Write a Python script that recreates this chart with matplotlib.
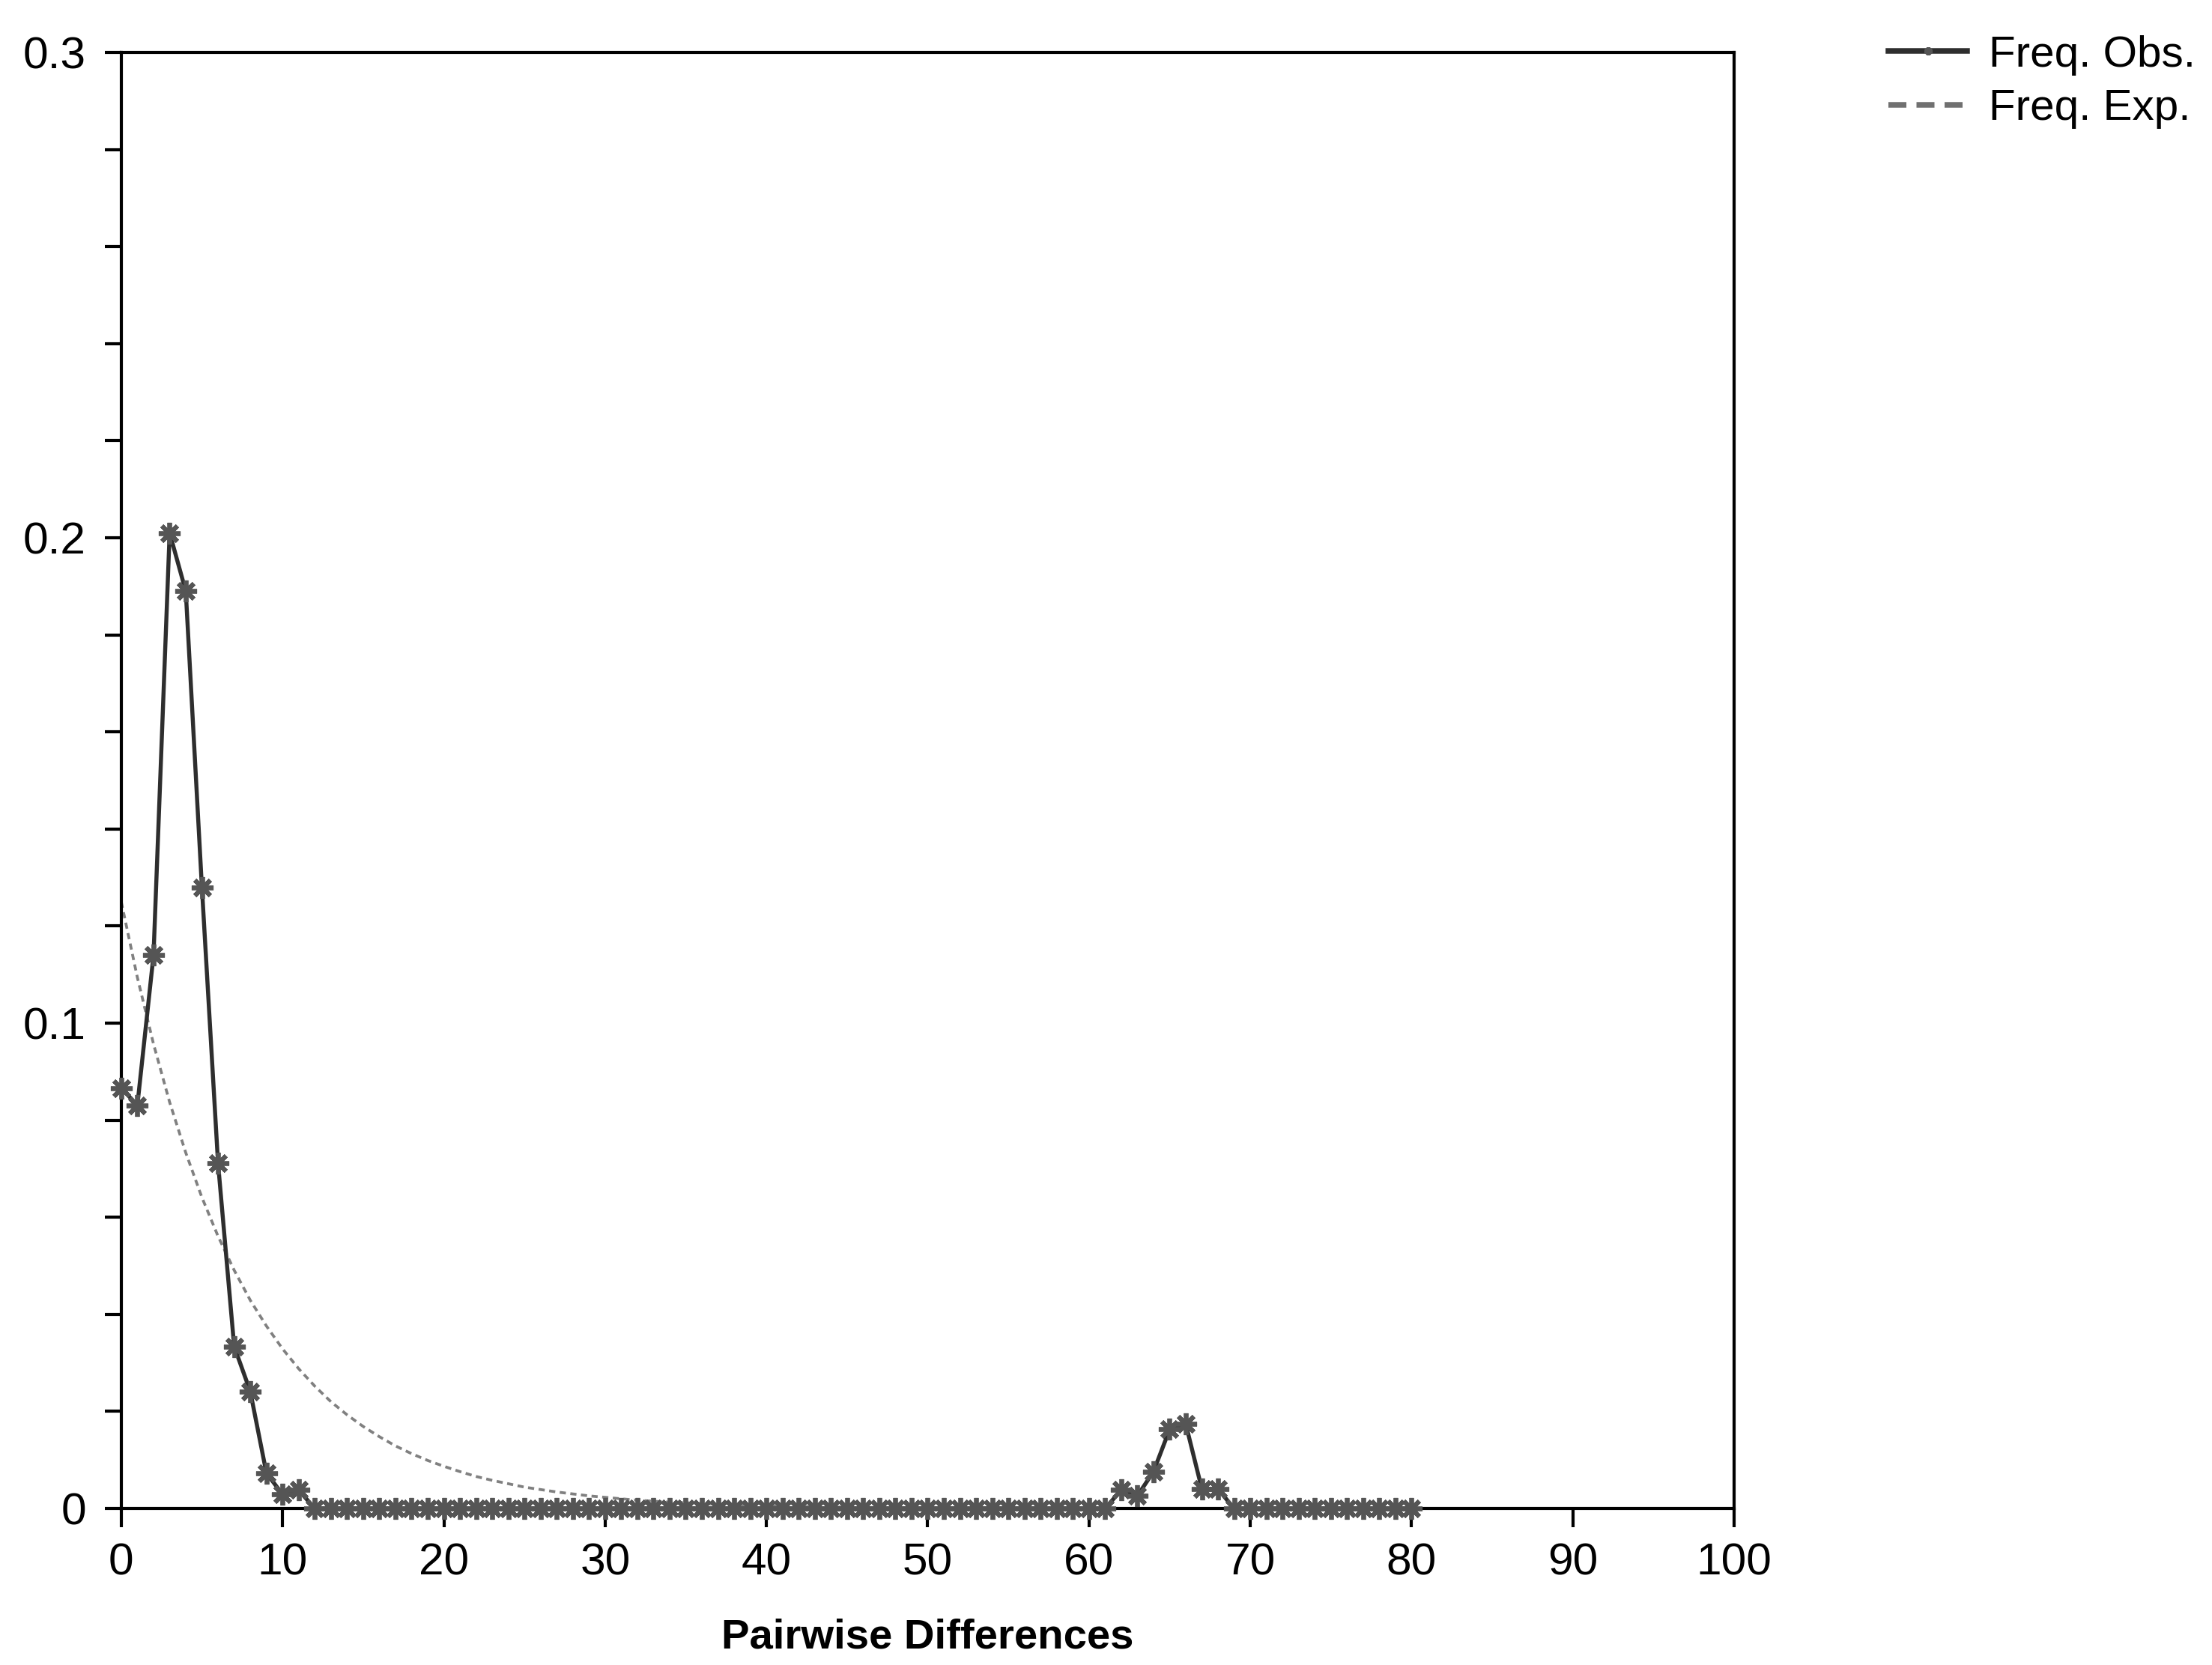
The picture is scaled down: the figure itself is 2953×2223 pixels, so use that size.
import matplotlib.pyplot as plt
from matplotlib.lines import Line2D
from matplotlib.ticker import FixedLocator, MultipleLocator

plt.rcParams['font.family'] = ['Liberation Sans', 'DejaVu Sans']

# observed mismatch frequencies, pairwise differences 0..80
obs_x = list(range(0, 81))
obs_freq = [0.0866, 0.0831, 0.114, 0.201, 0.189, 0.128, 0.0712, 0.0334, 0.0241, 0.0073,
            0.0029, 0.0038] + [0.0] * 50 + [0.0038, 0.0026, 0.0076, 0.0163, 0.0174,
                                            0.0040, 0.0040] + [0.0] * 12

# expected frequencies
exp_x = list(range(0, 81))
exp_freq = [0.1250, 0.1094, 0.0957, 0.0837, 0.0733, 0.0641, 0.0561, 0.0491, 0.0429, 0.0376,
            0.0329, 0.0288, 0.0252, 0.0220, 0.0193, 0.0169, 0.0148, 0.0129, 0.0113, 0.0099,
            0.0087, 0.0076, 0.0066, 0.0058, 0.0051, 0.0044, 0.0039, 0.0034, 0.0030, 0.0026,
            0.0023, 0.0020, 0.0017, 0.0015, 0.0013, 0.0012, 0.0010, 0.0009, 0.0008, 0.0007,
            0.0006, 0.0005, 0.0004, 0.0004, 0.0003, 0.0003, 0.0002, 0.0002, 0.0002, 0.0001] + [0.0] * 31

fig = plt.figure(figsize=(2954 / 300, 2223 / 300), dpi=300)
ax = fig.add_axes([0.0548, 0.094, 0.7289, 0.8745])

ax.plot(exp_x, exp_freq, color="#808080", linewidth=0.9, linestyle=(0, (2.2, 1.6)), zorder=2)
ax.plot(obs_x, obs_freq, color="#2e2e2e", linewidth=1.3, marker=(8, 2, 0), markersize=7,
        markeredgewidth=1.4, markeredgecolor="#555555", clip_on=False, zorder=3)

ax.set_xlim(0, 100)
ax.set_ylim(0, 0.3)
ax.set_xticks(range(0, 101, 10))
ax.yaxis.set_major_locator(FixedLocator([0, 0.1, 0.2, 0.3]))
ax.set_yticklabels(["0", "0.1", "0.2", "0.3"])
ax.yaxis.set_minor_locator(MultipleLocator(0.02))
ax.tick_params(axis="both", which="both", direction="out", width=1.0, labelsize=14.5)
ax.tick_params(axis="y", which="both", length=5.3, pad=6)
ax.tick_params(axis="x", which="major", length=6, pad=5)
for spine in ax.spines.values():
    spine.set_linewidth(1.0)

ax.set_xlabel("Pairwise Differences", fontsize=13.5, fontweight="bold", labelpad=11)

legend_handles = [
    Line2D([], [], color="#2e2e2e", linewidth=1.8, marker=(8, 2, 0), markersize=2.5,
           markeredgecolor="#555555"),
    Line2D([], [], color="#707070", linewidth=1.8, linestyle=(0, (3.2, 1.8))),
]
fig.legend(legend_handles, ["Freq. Obs.", "Freq. Exp."], loc="upper left",
           bbox_to_anchor=(0.8535, 0.979), frameon=False, fontsize=14,
           borderpad=0, borderaxespad=0, handlelength=1.8, handletextpad=0.5,
           labelspacing=0.3)

fig.savefig("out.png", dpi=300)
plt.close(fig)
